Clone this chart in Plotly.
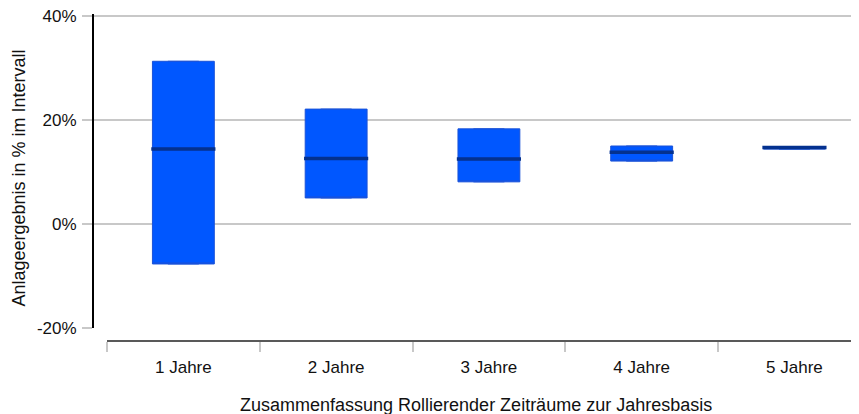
import plotly.graph_objects as go

categories = ["1 Jahre", "2 Jahre", "3 Jahre", "4 Jahre", "5 Jahre"]
q1_vals = [-7.7, 5.0, 8.1, 12.1, 14.4]
median_vals = [14.4, 12.6, 12.5, 13.8, 14.7]
q3_vals = [31.3, 22.1, 18.3, 15.0, 14.9]
y_tick_vals = [-20, 0, 20, 40]
y_tick_text = ["-20%", "0%", "20%", "40%"]
x_title = "Zusammenfassung Rollierender Zeiträume zur Jahresbasis"
y_title = "Anlageergebnis in % im Intervall"

FONT = "Liberation Sans, Arial, sans-serif"
GRID = "#c8c8c8"
TXT = "#111111"

fig = go.Figure()
fig.add_trace(go.Box(
    x=categories, q1=q1_vals, median=q1_vals, q3=q3_vals,
    lowerfence=q1_vals, upperfence=q3_vals,
    width=0.405, fillcolor="#0057ff", line=dict(color="#1a52d8", width=1),
    hoverinfo="skip", showlegend=False,
))
fig.add_trace(go.Box(
    x=categories, q1=median_vals, median=median_vals, q3=median_vals,
    lowerfence=median_vals, upperfence=median_vals,
    width=0.42, fillcolor="#04318f", line=dict(color="#04318f", width=3.5),
    hoverinfo="skip", showlegend=False,
))

# The page body adds an 8px offset, so the figure is sized 8px smaller.
fig.update_layout(
    width=851, height=406,
    margin=dict(l=86, r=1, t=6, b=73),
    paper_bgcolor="white", plot_bgcolor="white",
    boxmode="overlay",
    font=dict(family=FONT, size=17, color=TXT),
    xaxis=dict(
        type="category", categoryarray=categories,
        range=[-0.585, 4.416], domain=[0, 1],
        anchor="free", position=0, automargin=False,
        showgrid=False, zeroline=False, showline=False,
        tickson="boundaries", ticks="outside", ticklen=10, tickcolor=GRID, tickwidth=1.5,
        ticklabelstandoff=14, tickfont=dict(size=17),
    ),
    xaxis2=dict(
        type="linear", overlaying="x", range=[-0.585, 4.416],
        anchor="free", position=0, automargin=False,
        tickvals=[-0.5, 0.5, 1.5, 2.5, 3.5],
        ticks="inside", ticklen=10, tickcolor=GRID, tickwidth=1.5,
        showticklabels=False, showgrid=False, zeroline=False, showline=False,
    ),
    yaxis=dict(
        range=[-20.02, 40.4], domain=[0.0398, 1], automargin=False,
        tickvals=y_tick_vals, ticktext=y_tick_text,
        showgrid=True, gridcolor=GRID, gridwidth=1.5,
        zeroline=False, showline=True, linecolor="#000000", linewidth=2,
        ticks="outside", ticklen=10, tickcolor=GRID, tickwidth=1.5,
        ticklabelstandoff=2, tickfont=dict(size=17),
        ticklabeloverflow="allow",
    ),
    shapes=[dict(type="line", xref="paper", yref="paper",
                 x0=0.017, x1=1, y0=0, y1=0,
                 line=dict(color="#222222", width=1.5))],
    annotations=[
        dict(text=x_title, xref="paper", yref="paper", x=0.5, y=-0.196,
             xanchor="center", yanchor="middle", showarrow=False,
             font=dict(family=FONT, size=18, color=TXT)),
        dict(text=y_title, xref="paper", yref="paper", x=-0.098, y=0.497,
             xanchor="center", yanchor="middle", showarrow=False, textangle=-90,
             font=dict(family=FONT, size=18, color=TXT)),
    ],
)

fig.write_html("out.html")
